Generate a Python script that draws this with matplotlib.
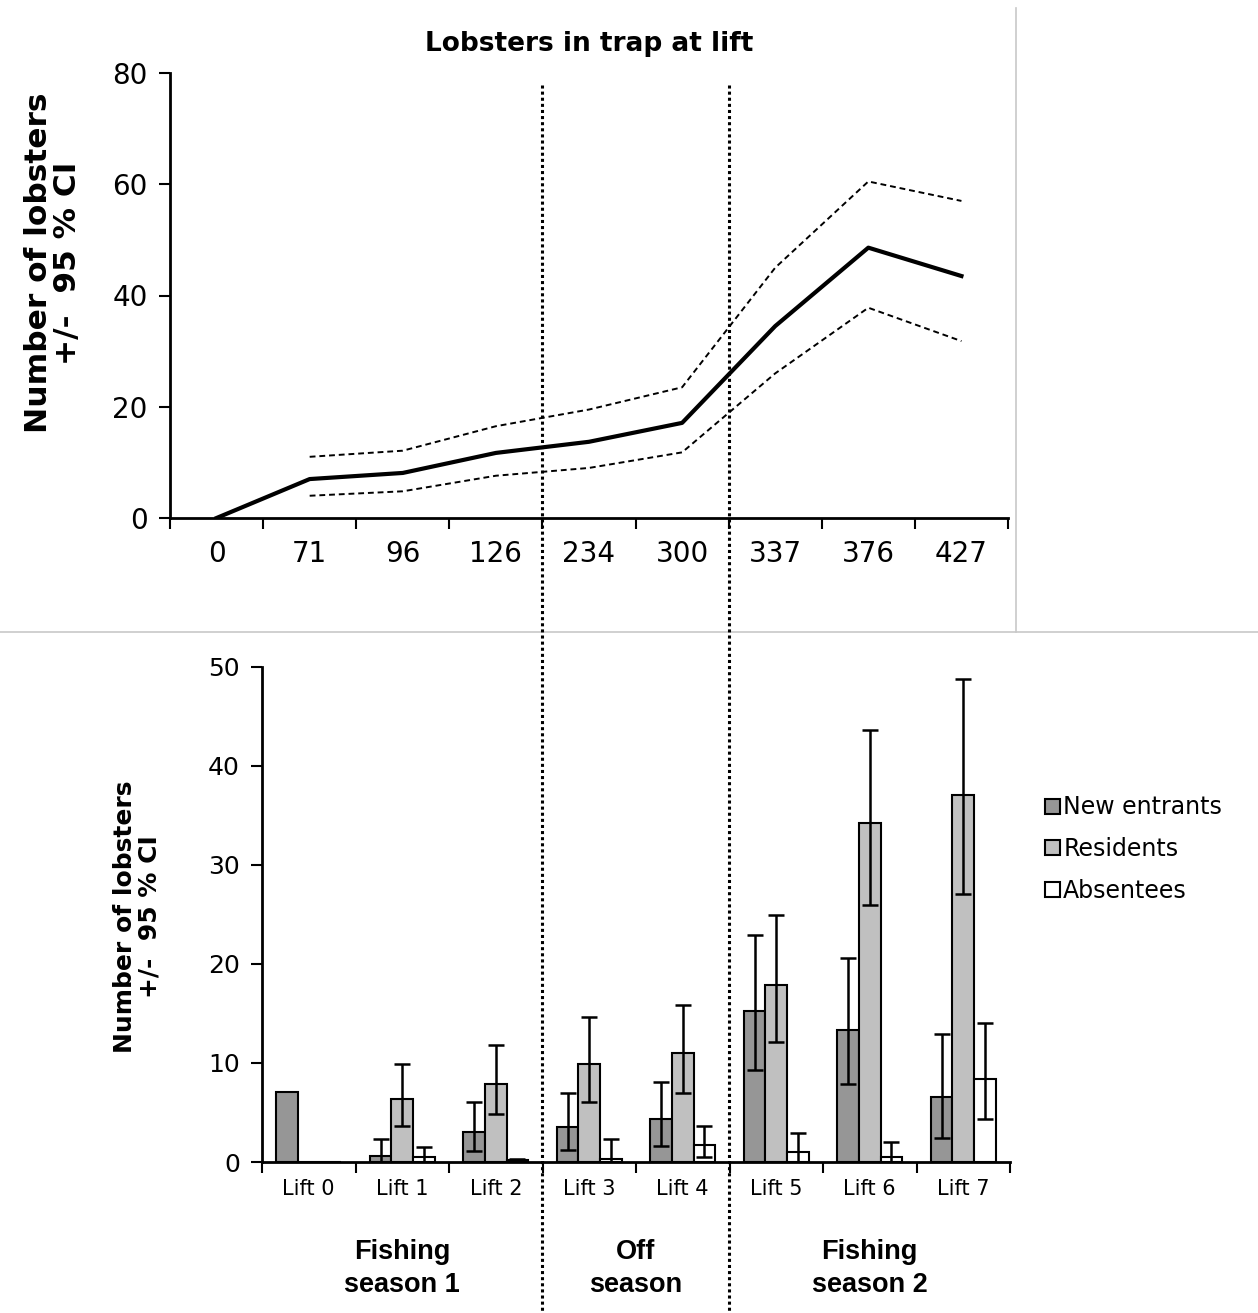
import matplotlib
matplotlib.use("Agg")
import matplotlib.pyplot as plt
from matplotlib.lines import Line2D
from matplotlib.patches import Patch
import numpy as np

plt.rcParams['font.family'] = ['DejaVu Sans']

# top panel: lobsters in trap at lift (days)
days = ['0', '71', '96', '126', '234', '300', '337', '376', '427']
mean_count = [0, 7.0, 8.1, 11.7, 13.7, 17.1, 34.5, 48.6, 43.5]
upper_ci = [np.nan, 11.0, 12.1, 16.5, 19.5, 23.5, 45.0, 60.5, 57.0]
lower_ci = [np.nan, 4.0, 4.8, 7.6, 9.0, 11.8, 26.0, 37.8, 31.8]

# bottom panel: groups per lift
lifts = ['Lift 0', 'Lift 1', 'Lift 2', 'Lift 3', 'Lift 4', 'Lift 5', 'Lift 6', 'Lift 7']
new_entrants = [7.1, 0.6, 3.0, 3.5, 4.3, 15.3, 13.3, 6.6]
new_up = [np.nan, 2.3, 6.1, 7.0, 8.1, 22.9, 20.6, 12.9]
new_lo = [np.nan, 0.0, 1.1, 1.2, 1.6, 9.3, 7.9, 2.4]
residents = [0, 6.4, 7.9, 9.9, 11.0, 17.9, 34.2, 37.1]
res_up = [np.nan, 9.9, 11.8, 14.6, 15.9, 24.9, 43.6, 48.8]
res_lo = [np.nan, 3.6, 4.8, 6.1, 7.0, 12.1, 26.0, 27.1]
absentees = [0, 0.5, 0.2, 0.3, 1.7, 1.0, 0.5, 8.4]
abs_up = [np.nan, 1.55, 0.3, 2.3, 3.6, 2.9, 2.05, 14.0]
abs_lo = [np.nan, 0.0, 0.1, 0.0, 0.5, 0.0, 0.0, 4.3]

seasons = ['Fishing\nseason 1', 'Off\nseason', 'Fishing\nseason 2']
season_centres = [1.0, 3.5, 6.0]

W, H = 1258, 1313
fig = plt.figure(figsize=(W / 100, H / 100), dpi=100)


def frac(x0, y0, x1, y1):
    return [x0 / W, 1 - y1 / H, (x1 - x0) / W, (y1 - y0) / H]


# ---- top panel ----
ax1 = fig.add_axes(frac(170, 73, 1008, 518))
x = np.arange(len(days))
ax1.plot(x, mean_count, color='black', lw=3)
ax1.plot(x, upper_ci, color='black', lw=1.4, ls=(0, (3, 2)))
ax1.plot(x, lower_ci, color='black', lw=1.4, ls=(0, (3, 2)))
ax1.set_xlim(-0.5, len(days) - 0.5)
ax1.set_ylim(0, 80)
ax1.set_yticks([0, 20, 40, 60, 80])
ax1.set_xticks(np.arange(len(days) + 1) - 0.5)
ax1.set_xticklabels([])
ax1.set_xticks(x, minor=True)
ax1.set_xticklabels(days, minor=True)
ax1.tick_params(axis='x', which='minor', length=0, pad=16, labelsize=20)
ax1.tick_params(axis='x', which='major', direction='out', length=8, width=1.5)
ax1.tick_params(axis='y', direction='out', length=8, width=1.5, labelsize=20, pad=8)
for s in ['top', 'right']:
    ax1.spines[s].set_visible(False)
for s in ['left', 'bottom']:
    ax1.spines[s].set_linewidth(2)
ax1.set_title('Lobsters in trap at lift', fontsize=19, fontweight='bold', pad=16)
ax1.set_ylabel('Number of lobsters\n+/-  95 % CI', fontsize=22.5, fontweight='bold',
               linespacing=1.0)
ax1.yaxis.set_label_coords(-0.105, 0.573)

# ---- bottom panel ----
ax2 = fig.add_axes(frac(262, 667, 1010, 1162))
xb = np.arange(len(lifts))
bw = 0.23
err_kw = dict(ecolor='black', elinewidth=1.8, capsize=6, capthick=1.8)


def yerr(vals, lo, up):
    v = np.array(vals, float)
    return [v - np.array(lo), np.array(up) - v]


ax2.bar(xb - bw, new_entrants, bw, color='#969696', edgecolor='black', lw=1.5,
        yerr=yerr(new_entrants, new_lo, new_up), error_kw=err_kw, label='New entrants')
ax2.bar(xb, residents, bw, color='#c0c0c0', edgecolor='black', lw=1.5,
        yerr=yerr(residents, res_lo, res_up), error_kw=err_kw, label='Residents')
ax2.bar(xb + bw, absentees, bw, color='white', edgecolor='black', lw=1.5,
        yerr=yerr(absentees, abs_lo, abs_up), error_kw=err_kw, label='Absentees')
ax2.set_xlim(-0.5, len(lifts) - 0.5)
ax2.set_ylim(0, 50)
ax2.set_yticks([0, 10, 20, 30, 40, 50])
ax2.set_xticks(np.arange(len(lifts) + 1) - 0.5)
ax2.set_xticklabels([])
ax2.set_xticks(xb, minor=True)
ax2.set_xticklabels(lifts, minor=True)
ax2.tick_params(axis='x', which='minor', length=0, pad=12, labelsize=15)
ax2.tick_params(axis='x', which='major', direction='out', length=8, width=1.5)
ax2.tick_params(axis='y', direction='out', length=8, width=1.5, labelsize=18, pad=8)
for s in ['top', 'right']:
    ax2.spines[s].set_visible(False)
for s in ['left', 'bottom']:
    ax2.spines[s].set_linewidth(2)
ax2.set_ylabel('Number of lobsters\n+/-  95 % CI', fontsize=18, fontweight='bold',
               linespacing=1.05)
ax2.yaxis.set_label_coords(-0.134, 0.495)

for c, lab in zip(season_centres, seasons):
    ax2.text(c, -10.8, lab, ha='center', va='center', fontsize=19.5, fontweight='bold',
             family='Liberation Sans', linespacing=1.35, transform=ax2.transData)

handles = [Patch(facecolor='#969696', edgecolor='black', lw=1.5),
           Patch(facecolor='#c0c0c0', edgecolor='black', lw=1.5),
           Patch(facecolor='white', edgecolor='black', lw=1.5)]
fig.legend(handles, ['New entrants', 'Residents', 'Absentees'],
           loc='upper left', bbox_to_anchor=(1036 / W, 1 - 786 / H), frameon=False,
           fontsize=17, handlelength=0.6, handleheight=0.6, handletextpad=0.15,
           labelspacing=0.75, borderaxespad=0)

# ---- panel frames and season dividers ----
fig.add_artist(Line2D([0, 1], [1 - 632 / H] * 2, transform=fig.transFigure,
                      color='#c8c8c8', lw=1.2))
fig.add_artist(Line2D([1016 / W] * 2, [1 - 8 / H, 1 - 632 / H], transform=fig.transFigure,
                      color='#c8c8c8', lw=1.2))
inv = fig.transFigure.inverted()
for xd in [3.5, 5.5]:
    xf = inv.transform(ax1.transData.transform((xd, 0)))[0]
    fig.add_artist(Line2D([xf, xf], [1 - 85 / H, 0], transform=fig.transFigure,
                          color='black', lw=2.2, ls=(0, (1, 1))))

fig.savefig('out.png', dpi=100)
